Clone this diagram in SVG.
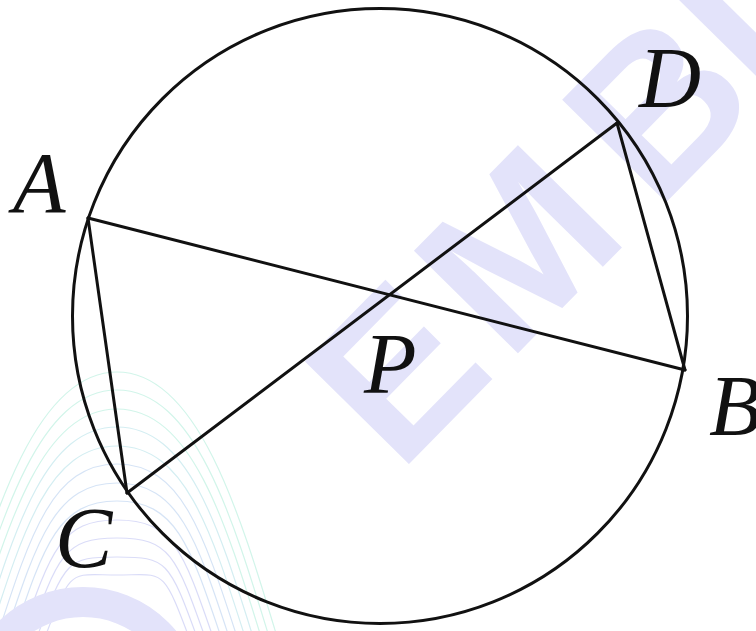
<svg xmlns="http://www.w3.org/2000/svg" width="756" height="631" viewBox="0 0 756 631">
  <style>
    .wm { font-family: "Liberation Sans", Arial, sans-serif; font-weight: bold; font-size: 212px; fill: #e3e3fa; }
    .arc { fill: none; stroke-width: 1.2; }
    .g1 { stroke: #d2f5ea; }
    .g2 { stroke: #d4eef2; }
    .g3 { stroke: #d6e4f6; }
    .g4 { stroke: #dadcf8; }
    .edge { stroke: #111; stroke-width: 3; fill: none; stroke-linecap: round; }
    .lbl { font-family: "Liberation Serif", "Times New Roman", serif; font-style: italic; font-size: 86px; fill: #111; }
  </style>
  <rect width="756" height="631" fill="#ffffff"/>
  <g id="background-marks">
    <path class="arc g1" d="M -44 640 C -5 510 37 372 117 372 C 197 372 239 510 278 640"/>
    <path class="arc g1" d="M -36 640 C 2 515 40 390 117 390 C 194 390 232 515 270 640"/>
    <path class="arc g1" d="M -28 640 C 9 520 43 409 117 409 C 191 409 225 520 262 640"/>
    <path class="arc g2" d="M -20 640 C 16 525 46 427 117 427 C 188 427 218 525 254 640"/>
    <path class="arc g2" d="M -12 640 C 23 530 49 446 117 446 C 185 446 211 530 246 640"/>
    <path class="arc g3" d="M -4 640 C 30 535 52 464 117 464 C 182 464 204 535 238 640"/>
    <path class="arc g3" d="M 4 640 C 37 540 55 483 117 483 C 179 483 197 540 230 640"/>
    <path class="arc g3" d="M 12 640 C 44 545 58 501 117 501 C 176 501 190 545 222 640"/>
    <path class="arc g4" d="M 20 640 C 51 550 61 520 117 520 C 173 520 183 550 214 640"/>
    <path class="arc g4" d="M 28 640 C 58 555 64 538 117 538 C 170 538 176 555 206 640"/>
    <path class="arc g4" d="M 36 640 C 65 560 67 557 117 557 C 167 557 169 560 198 640"/>
    <path class="arc g4" d="M 44 640 C 72 565 70 575 117 575 C 164 575 162 565 190 640"/>
    <circle cx="83" cy="708" r="106" fill="none" stroke="#e3e3fa" stroke-width="30"/>
    <text class="wm" transform="translate(399 474) rotate(-45.5)"><tspan>E</tspan><tspan dx="14">M</tspan><tspan dx="35">B</tspan><tspan dx="0">I</tspan></text>
  </g>
  <g id="circle">
    <circle class="edge" cx="380" cy="316" r="307.5"/>
  </g>
  <g id="connectors">
    <line class="edge" x1="88" y1="218" x2="685" y2="370"/>
    <line class="edge" x1="127" y1="493" x2="617" y2="123"/>
    <line class="edge" x1="88" y1="218" x2="127" y2="493"/>
    <line class="edge" x1="617" y1="123" x2="685" y2="370"/>
  </g>
  <g id="node-A"><text class="lbl" x="13" y="212">A</text></g>
  <g id="node-D"><text class="lbl" x="639" y="107">D</text></g>
  <g id="node-B"><text class="lbl" x="709" y="435">B</text></g>
  <g id="node-C"><text class="lbl" x="55" y="567">C</text></g>
  <g id="node-P"><text class="lbl" x="364" y="393">P</text></g>
</svg>
